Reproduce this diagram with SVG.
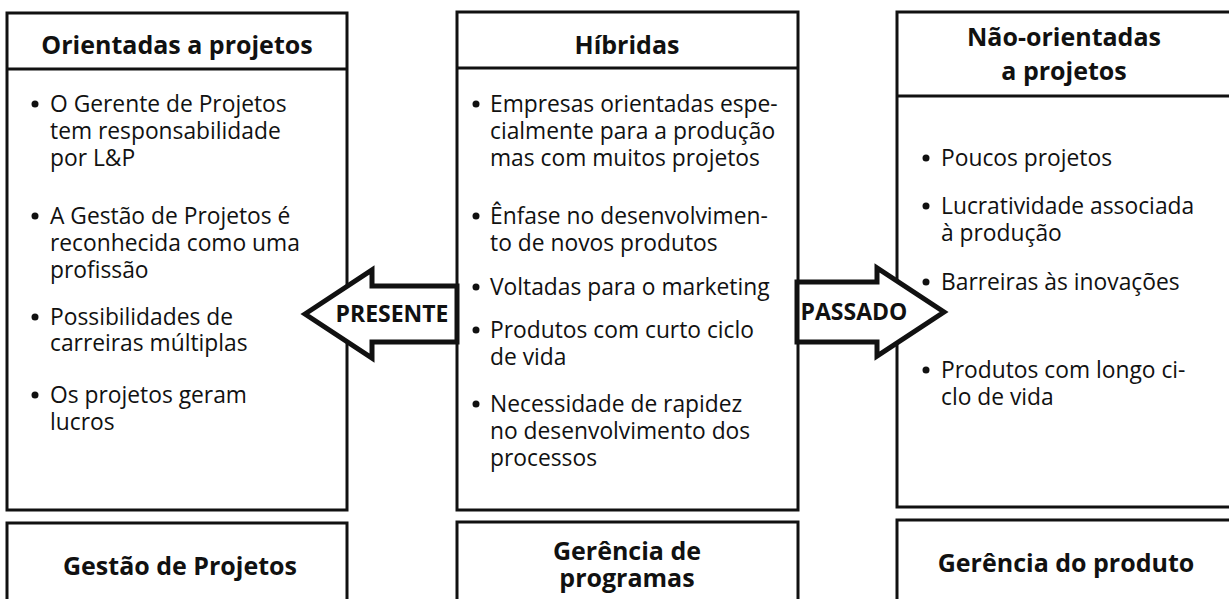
<svg xmlns="http://www.w3.org/2000/svg" width="1229" height="599" viewBox="0 0 1229 599">
<style>
.box{fill:#fff;stroke:#111;stroke-width:3}
.div{stroke:#111;stroke-width:3}
.hd{font-family:"Open Sans","Noto Sans",sans-serif;font-weight:bold;font-size:25px;fill:#111;text-anchor:middle}
.tx{font-family:"Open Sans","Noto Sans",sans-serif;font-size:22.8px;fill:#111}
.arr{fill:#fff;stroke:#111;stroke-width:5;stroke-linejoin:miter}
.al{font-family:"Open Sans","Noto Sans",sans-serif;font-weight:bold;font-size:23px;fill:#111;text-anchor:middle}
.bl{fill:#111}
</style>
<rect width="1229" height="599" fill="#fff"/>
<g id="orientadas">
<rect class="box" x="7" y="13" width="340" height="497"/>
<line class="div" x1="7" y1="69" x2="347" y2="69"/>
<text class="hd" x="177" y="54">Orientadas a projetos</text>
<circle class="bl" cx="35" cy="104" r="3.5"/><circle class="bl" cx="35" cy="216" r="3.5"/><circle class="bl" cx="35" cy="317" r="3.5"/><circle class="bl" cx="35" cy="395" r="3.5"/>
<text class="tx" x="50" y="112">O Gerente de Projetos<tspan x="50" dy="27">tem responsabilidade</tspan><tspan x="50" dy="27">por L&amp;P</tspan></text>
<text class="tx" x="50" y="224">A Gestão de Projetos é<tspan x="50" dy="27">reconhecida como uma</tspan><tspan x="50" dy="27">profissão</tspan></text>
<text class="tx" x="50" y="325">Possibilidades de<tspan x="50" dy="26">carreiras múltiplas</tspan></text>
<text class="tx" x="50" y="403">Os projetos geram<tspan x="50" dy="27">lucros</tspan></text>
</g>
<g id="hibridas">
<rect class="box" x="457" y="12" width="341" height="498"/>
<line class="div" x1="457" y1="68" x2="798" y2="68"/>
<text class="hd" x="627" y="54">Híbridas</text>
<circle class="bl" cx="476" cy="104" r="3.5"/><circle class="bl" cx="476" cy="216" r="3.5"/><circle class="bl" cx="476" cy="287" r="3.5"/><circle class="bl" cx="476" cy="330" r="3.5"/><circle class="bl" cx="476" cy="404" r="3.5"/>
<text class="tx" x="490" y="112">Empresas orientadas espe-<tspan x="490" dy="27">cialmente para a produção</tspan><tspan x="490" dy="27">mas com muitos projetos</tspan></text>
<text class="tx" x="490" y="224">Ênfase no desenvolvimen-<tspan x="490" dy="27">to de novos produtos</tspan></text>
<text class="tx" x="490" y="295">Voltadas para o marketing</text>
<text class="tx" x="490" y="338">Produtos com curto ciclo<tspan x="490" dy="27">de vida</tspan></text>
<text class="tx" x="490" y="412">Necessidade de rapidez<tspan x="490" dy="27">no desenvolvimento dos</tspan><tspan x="490" dy="27">processos</tspan></text>
</g>
<g id="nao-orientadas">
<rect class="box" x="897" y="12" width="345" height="495"/>
<line class="div" x1="897" y1="96" x2="1240" y2="96"/>
<text class="hd" x="1064" y="46">Não-orientadas<tspan x="1064" dy="34">a projetos</tspan></text>
<circle class="bl" cx="926" cy="158" r="3.5"/><circle class="bl" cx="926" cy="206" r="3.5"/><circle class="bl" cx="926" cy="282" r="3.5"/><circle class="bl" cx="926" cy="370" r="3.5"/>
<text class="tx" x="941" y="166">Poucos projetos</text>
<text class="tx" x="941" y="214">Lucratividade associada<tspan x="941" dy="27">à produção</tspan></text>
<text class="tx" x="941" y="290">Barreiras às inovações</text>
<text class="tx" x="941" y="378">Produtos com longo ci-<tspan x="941" dy="27">clo de vida</tspan></text>
</g>
<g id="gestao-projetos">
<rect class="box" x="7" y="523" width="340" height="100"/>
<text class="hd" x="180" y="575">Gestão de Projetos</text>
</g>
<g id="gerencia-programas">
<rect class="box" x="457" y="522" width="341" height="100"/>
<text class="hd" x="627" y="560">Gerência de<tspan x="627" dy="27">programas</tspan></text>
</g>
<g id="gerencia-produto">
<rect class="box" x="897" y="520" width="345" height="100"/>
<text class="hd" x="1066" y="572">Gerência do produto</text>
</g>
<g id="connectors">
<polygon class="arr" points="305,314 372,270 372,286 457,286 457,342 372,342 372,358"/>
<text class="al" x="392" y="322">PRESENTE</text>
<polygon class="arr" points="797,282 877,282 877,268 944,312 877,356 877,342 797,342"/>
<text class="al" x="854" y="320">PASSADO</text>
</g>
</svg>
